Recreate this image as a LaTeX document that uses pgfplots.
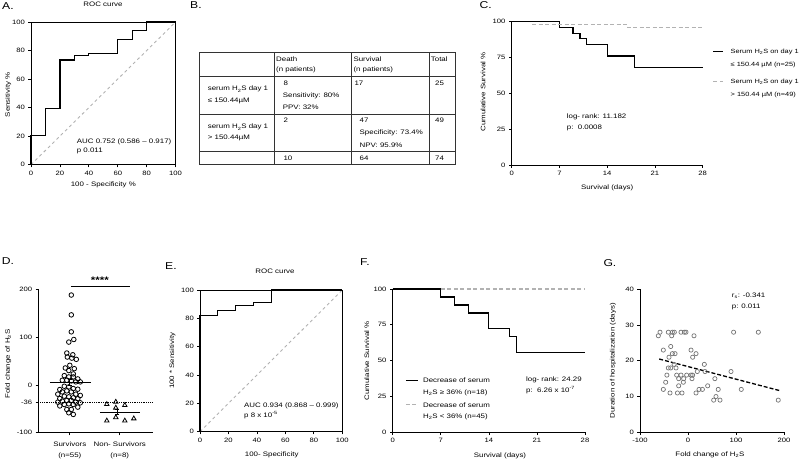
\documentclass[border=0pt]{standalone}
\usepackage{fontspec}
\setmainfont{Liberation Sans}[FakeStretch=1.22]
\usepackage{pgfplots}
\pgfplotsset{compat=1.18}
\newcommand{\tf}{\fontsize{6.5}{7.5}\selectfont}
\newcommand{\lf}{\fontsize{10}{12}\selectfont}
\pgfplotsset{
  gpbase/.style={scale only axis, anchor=south west, clip=false,
    /pgf/number format/assume math mode=true,
    tick align=outside, major tick length=2.7bp, tick pos=left,
    tick style={black, line width=0.7bp},
    tick label style={font=\fontsize{6.3}{7}\selectfont},
    label style={font=\tf},
    title style={font=\tf},
    minor tick num=0},
  gp/.style={gpbase, axis lines*=left, axis line style={line width=0.9bp}},
  gpbox/.style={gpbase, axis line style={line width=0.7bp}},
}
\begin{document}
\begin{tikzpicture}
\useasboundingbox (0,0) rectangle (800bp,461bp);
% panel letters
\node[anchor=north west, inner sep=0, font=\lf] at (2bp,459bp) {A.};
\node[anchor=north west, inner sep=0, font=\lf] at (190bp,459.3bp) {B.};
\node[anchor=north west, inner sep=0, font=\lf] at (479.3bp,459.3bp) {C.};
\node[anchor=north west, inner sep=0, font=\lf] at (1.7bp,203.7bp) {D.};
\node[anchor=north west, inner sep=0, font=\lf] at (165bp,198.3bp) {E.};
\node[anchor=north west, inner sep=0, font=\lf] at (360bp,202.7bp) {F.};
\node[anchor=north west, inner sep=0, font=\lf] at (603.3bp,202bp) {G.};

% ---------------- A ----------------
\begin{axis}[gpbox, at={(31bp,296.3bp)}, width=144.6bp, height=142.7bp,
  xmin=0, xmax=100, ymin=0, ymax=100,
  xtick={0,20,...,100}, ytick={0,20,...,100},
  title={ROC curve}, title style={at={(axis description cs:0.498,1.084)}, anchor=center},
  xlabel={100 - Specificity \%}, xlabel style={at={(axis description cs:0.5,-0.142)}, anchor=center},
  ylabel={Sensitivity \%}, ylabel style={at={(axis description cs:-0.157,0.49)}, anchor=center}]
\addplot[gray!60, dashed, line width=0.9bp] coordinates {(0,0) (100,100)};
\addplot[black, line width=1.2bp] coordinates {(0,0)(0,20.3)(10,20.3)(10,39.1)(20,39.1)(20,73.4)(30,73.4)(30,76.6)(40,76.6)(40,78.1)(60,78.1)(60,87.5)(70,87.5)(70,93.8)(80,93.8)(80,100)(100,100)};
\node[anchor=west, inner sep=0, font=\tf] at (axis cs:31.6,16.1) {AUC 0.752 (0.586 – 0.917)};
\node[anchor=west, inner sep=0, font=\tf] at (axis cs:31.6,9.8) {p 0.011};
\end{axis}

% ---------------- B (table) ----------------
\begin{scope}[line width=0.7bp, black!80]
\draw (199bp,408.3bp) rectangle (455bp,296.7bp);
\draw (199bp,385bp) -- (455bp,385bp);
\draw (199bp,346.7bp) -- (455bp,346.7bp);
\draw (199bp,309.3bp) -- (455bp,309.3bp);
\draw (274.3bp,408.3bp) -- (274.3bp,296.7bp);
\draw (351.7bp,408.3bp) -- (351.7bp,296.7bp);
\draw (429.3bp,408.3bp) -- (429.3bp,296.7bp);
\end{scope}
\begin{scope}[every node/.style={anchor=west, inner sep=0, font=\tf}]
\node at (276bp,402bp) {Death};
\node at (276bp,390.7bp) {(n patients)};
\node at (353.3bp,402bp) {Survival};
\node at (353.3bp,390.7bp) {(n patients)};
\node at (430.7bp,402bp) {Total};
\node at (207.7bp,371.7bp) {serum H\textsubscript{2}S day 1};
\node at (207.7bp,360.3bp) {≤ 150.44µM};
\node at (283.3bp,377.7bp) {8};
\node at (282.7bp,365.3bp) {Sensitivity: 80\%};
\node at (282.7bp,353.3bp) {PPV: 32\%};
\node at (354.3bp,377.7bp) {17};
\node at (435bp,377.7bp) {25};
\node at (207.7bp,333.7bp) {serum H\textsubscript{2}S day 1};
\node at (207.7bp,322.7bp) {> 150.44µM};
\node at (283.3bp,340.3bp) {2};
\node at (359.5bp,340.3bp) {47};
\node at (359.5bp,327.7bp) {Specificity: 73.4\%};
\node at (359.5bp,315.3bp) {NPV: 95.9\%};
\node at (435bp,340.3bp) {49};
\node at (283.3bp,302.7bp) {10};
\node at (359.5bp,302.7bp) {64};
\node at (435bp,302.7bp) {74};
\end{scope}

% ---------------- C ----------------
\begin{axis}[gp, at={(511.7bp,296bp)}, width=191bp, height=143.3bp,
  xmin=0, xmax=28, ymin=0, ymax=100,
  xtick={0,7,...,28}, ytick={0,25,...,100},
  xlabel={Survival (days)}, xlabel style={at={(axis description cs:0.5,-0.16)}, anchor=center},
  ylabel={Cumulative Survival \%}, ylabel style={at={(axis description cs:-0.15,0.51)}, anchor=center},
  legend style={at={(axis description cs:1.052,0.81)}, anchor=north west, draw=none, fill=none,
    inner sep=0pt, font=\fontsize{6.1}{12.7}\selectfont, row sep=11.7bp, column sep=6.6bp,
    nodes={inner sep=0pt}, cells={anchor=base west, align=left}},
  legend image code/.code={\draw[#1] (0bp,15bp) -- (10bp,15bp);}]
\addplot[black, line width=1.2bp] coordinates {(0,100)(7,100)(7,96)(9,96)(9,92)(10,92)(10,88)(11,88)(11,84)(14,84)(14,76)(18,76)(18,68)(28,68)};
\addlegendentry{Serum H\textsubscript{2}S on day 1\\≤ 150.44 µM (n=25)}
\addplot[gray!60, line width=1.2bp, dash pattern=on 4bp off 2.5bp] coordinates {(3,98)(17,98)(17,95.9)(28,95.9)};
\addlegendentry{Serum H\textsubscript{2}S on day 1\\> 150.44 µM (n=49)}
\node[anchor=west, inner sep=0, font=\tf] at (axis cs:8.06,33.7) {log- rank: 11.182};
\node[anchor=west, inner sep=0, font=\tf] at (axis cs:8.06,25.8) {p:\ \ 0.0008};
\end{axis}

% ---------------- D ----------------
\begin{axis}[gp, at={(38.3bp,28.3bp)}, width=115bp, height=143.4bp,
  xmin=0.37, xmax=2.67, ymin=-100, ymax=200,
  ytick={-100,-36,0,100,200}, xtick={1,2},
  xticklabels={{Survivors\\(n=55)},{Non- Survivors\\(n=8)}},
  xticklabel style={align=center, font=\fontsize{6.5}{11}\selectfont, yshift=-3bp},
  ylabel={Fold change of H\textsubscript{2}S}, ylabel style={at={(axis description cs:-0.261,0.48)}, anchor=center}]
\addplot[black, line width=0.6bp, dash pattern=on 0.8bp off 1bp] coordinates {(0.37,-36)(2.67,-36)};
\addplot[only marks, mark=o, mark size=2.3bp, mark options={black, line width=0.8bp, fill=white}] coordinates {
(1.03,188)(1.03,146.5)(1.03,111)(1.08,95)(0.98,89.6)(0.94,66.7)(1.06,63)(0.95,58.3)(1.04,56)(1.13,53.5)(1.0,41)(0.91,35.4)(1.09,34)(0.98,30)(1.07,23)(0.89,19.4)(0.98,16.7)(1.07,16.7)(1.16,12.5)(0.85,9.7)(0.94,9.7)(1.03,8.3)(1.12,6.3)(1.21,6.3)(0.89,-2.8)(0.98,-4.2)(1.07,-7.6)(1.16,-9)(0.80,-9.7)(0.94,-12.5)(1.03,-14.6)(0.85,-14.6)(1.12,-19.4)(0.76,-19.4)(1.21,-22)(0.89,-23.6)(0.98,-25)(1.07,-27)(0.80,-28.5)(1.16,-29)(0.94,-32.6)(1.03,-32.6)(0.85,-34)(1.12,-36)(0.76,-36)(1.21,-37.5)(0.98,-39.6)(0.89,-41)(1.07,-41)(0.80,-44)(1.16,-46.5)(0.94,-51.4)(1.03,-51.4)(0.98,-58.3)(1.07,-61.8)};
\addplot[only marks, mark=triangle, mark size=2.6bp, mark options={black, line width=0.8bp, fill=white}] coordinates {
(1.74,-40.5)(1.92,-35.6)(2.10,-42.6)(1.92,-48)(1.74,-75)(1.92,-68)(2.10,-75)(2.28,-70.5)};
\addplot[black, line width=1.1bp] coordinates {(0.60,5.5)(1.42,5.5)};
\addplot[black, line width=1.1bp] coordinates {(1.60,-57)(2.40,-57)};
\addplot[draw=none, mark=none, error bars/.cd, y dir=both, y explicit,
  error bar style={line width=0.8bp, black}, error mark options={rotate=90, mark size=2bp, line width=0.8bp, black}]
  coordinates {(1.0,5.5) +- (0,7) (1.95,-57) +- (0,5.7)};
\addplot[black, line width=1.2bp] coordinates {(1.02,205.4)(2.20,205.4)};
\node[font=\fontsize{9.5}{10}\selectfont\bfseries, inner sep=0] at (axis cs:1.60,219) {****};
\end{axis}

% ---------------- E ----------------
\begin{axis}[gpbox, at={(200bp,29.3bp)}, width=142.3bp, height=141.7bp,
  xmin=0, xmax=100, ymin=0, ymax=100,
  xtick={0,20,...,100}, ytick={0,20,...,100},
  title={ROC curve}, title style={at={(axis description cs:0.527,1.09)}, anchor=center},
  xlabel={100- Specificity}, xlabel style={at={(axis description cs:0.504,-0.16)}, anchor=center},
  ylabel={100 * Sensitivity}, ylabel style={at={(axis description cs:-0.193,0.5)}, anchor=center}]
\addplot[gray!60, dashed, line width=0.9bp] coordinates {(0,0) (100,100)};
\addplot[black, line width=1.2bp] coordinates {(0,0)(0,81.8)(12.5,81.8)(12.5,85.5)(25,85.5)(25,89.1)(37.5,89.1)(37.5,90.9)(50,90.9)(50,100)(100,100)};
\node[anchor=west, inner sep=0, font=\tf] at (axis cs:30.9,18.1) {AUC 0.934 (0.868 – 0.999)};
\node[anchor=west, inner sep=0, font=\tf] at (axis cs:30.9,11.8) {p 8 x 10\textsuperscript{-5}};
\end{axis}

% ---------------- F ----------------
\begin{axis}[gp, at={(392.7bp,28.7bp)}, width=192.3bp, height=143.3bp,
  xmin=0, xmax=28, ymin=0, ymax=100,
  xtick={0,7,...,28}, ytick={0,25,...,100},
  xlabel={Survival (days)}, xlabel style={at={(axis description cs:0.558,-0.163)}, anchor=center},
  ylabel={Cumulative Survival \%}, ylabel style={at={(axis description cs:-0.135,0.5)}, anchor=center},
  legend style={at={(axis description cs:0.064,0.38)}, anchor=north west, draw=none, fill=none,
    inner sep=0pt, font=\fontsize{6.5}{11.7}\selectfont, row sep=6.5bp, column sep=4.7bp,
    nodes={inner sep=0pt}, cells={anchor=base west, align=left}},
  legend image code/.code={\draw[#1] (0bp,14bp) -- (12bp,14bp);}]
\addplot[black, line width=1.2bp] coordinates {(0,100)(7,100)(7,94.4)(9,94.4)(9,88.9)(11,88.9)(11,83.3)(14,83.3)(14,72.2)(17,72.2)(17,66.7)(18,66.7)(18,55.6)(28,55.6)};
\addlegendentry{Decrease of serum\\H\textsubscript{2}S ≥ 36\% (n=18)}
\addplot[gray!60, line width=1.2bp, dash pattern=on 4bp off 2.5bp] coordinates {(7,100)(28,100)};
\addlegendentry{Decrease of serum\\H\textsubscript{2}S < 36\% (n=45)}
\node[anchor=west, inner sep=0, font=\tf] at (axis cs:19.4,36.5) {log- rank: 24.29};
\node[anchor=west, inner sep=0, font=\tf] at (axis cs:19.4,29.5) {p:\ \ 6.26 x 10\textsuperscript{-7}};
\end{axis}

% ---------------- G ----------------
\begin{axis}[gp, at={(640bp,28.7bp)}, width=144bp, height=143bp,
  xmin=-100, xmax=200, ymin=0, ymax=40,
  xtick={-100,0,100,200}, ytick={0,10,...,40},
  xlabel={Fold change of H\textsubscript{2}S}, xlabel style={at={(axis description cs:0.486,-0.159)}, anchor=center},
  ylabel={Duration of hospitalization (days)}, ylabel style={at={(axis description cs:-0.1875,0.5)}, anchor=center}]
\addplot[only marks, mark=o, mark size=2.1bp, mark options={black!55, line width=0.7bp}] coordinates {
(-58.3,28)(-41,28)(-32.6,28)(-28.5,28)(-14.6,28)(-7.6,28)(-4.2,28)(95,28)(146.5,28)
(-61.8,27)(-34,27)(12.5,27)
(-36,24)
(-51.4,23)(6.3,23)
(-32.6,22)(-27,22)(16.7,22)
(-39.6,21)(9.7,21)
(-29,19)(34,19)
(-41,18)(-36,18)(-25,18)
(19.4,17)(35.4,17)(89.6,17)
(-23.6,16)(-14.6,16)(-2.8,16)(6.3,16)(9.7,16)(-44,16)
(-19.4,15)(-9,15)(8.3,15)(56,15)
(-46.5,14)(-9.7,14)
(-19.4,13)(41,13)
(-51.4,12)(23,12)(30,12)(63,12)(111,12)
(-37.5,11)(-22,11)(-12.5,11)(16.7,11)
(58.3,10)
(53.5,9)(66.7,9)(188,9)};
\addplot[black, line width=1.3bp, dash pattern=on 4bp off 2bp] coordinates {(-60,20.5)(190,11.7)};
\node[anchor=west, inner sep=0, font=\tf] at (axis cs:91,38.2) {r\textsubscript{s}: -0.341};
\node[anchor=west, inner sep=0, font=\tf] at (axis cs:91,35.1) {p: 0.011};
\end{axis}
\end{tikzpicture}
\end{document}
